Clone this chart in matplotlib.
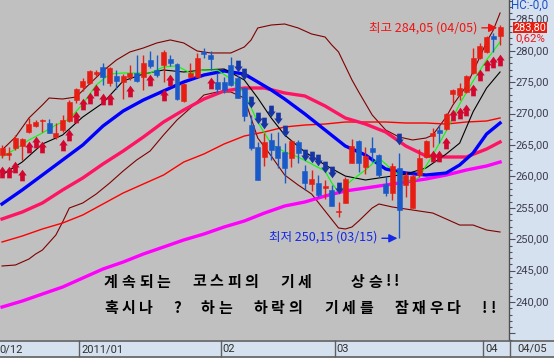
import numpy as np
import matplotlib.pyplot as plt
from matplotlib.path import Path
from matplotlib.lines import Line2D

plt.rcParams['font.family'] = ['Noto Sans CJK KR', 'DejaVu Sans']

# daily candles, index 0 .. 74 (last = 2011/04/05)
opens = [263.41, 263.41, 264.52, 264.84, 267.07, 268.02, 268.82, 268.50, 266.27, 267.39,
         268.82, 272.16, 274.23, 274.87, 276.30, 277.42, 274.87, 275.98, 275.03, 275.83,
         276.46, 275.83, 278.53, 276.94, 277.74, 278.69, 277.90, 272.00, 275.83, 275.83,
         279.81, 279.33, 275.03, 275.03, 277.74, 275.67, 274.07, 268.18, 264.68, 263.09,
         265.80, 264.84, 263.89, 262.93, 265.48, 260.86, 258.79, 258.95, 258.15, 257.84,
         254.33, 255.77, 262.13, 265.64, 261.50, 264.52, 263.41, 258.79, 257.36, 261.34,
         258.63, 254.97, 260.22, 263.09, 266.43, 267.39, 267.55, 273.12, 272.96, 273.44,
         276.46, 278.85, 279.81, 282.35, 282.35]
highs = [265.00, 264.68, 266.59, 266.11, 269.30, 268.98, 269.14, 269.14, 268.50, 269.78,
         272.16, 274.07, 275.67, 276.94, 276.94, 278.05, 277.42, 276.94, 276.30, 277.74,
         279.33, 279.33, 279.96, 279.33, 280.12, 279.33, 278.05, 274.87, 278.05, 279.65,
         280.44, 279.96, 276.46, 275.83, 279.01, 276.14, 274.23, 269.78, 265.48, 266.91,
         266.91, 267.07, 265.32, 265.80, 265.80, 261.82, 261.02, 260.22, 259.43, 258.63,
         255.93, 259.91, 265.96, 265.80, 264.68, 266.27, 263.57, 260.06, 262.13, 263.73,
         260.70, 260.38, 264.36, 265.80, 267.71, 268.18, 270.09, 273.92, 274.87, 276.14,
         280.44, 281.24, 282.35, 282.83, 284.05]
lows = [262.93, 262.61, 264.20, 262.61, 266.91, 267.87, 267.07, 266.91, 265.96, 267.07,
        268.66, 271.69, 273.60, 274.71, 275.98, 274.55, 274.39, 273.92, 272.32, 275.35,
        275.03, 273.76, 277.26, 275.83, 275.03, 277.58, 272.16, 271.85, 275.67, 275.83,
        278.85, 276.94, 273.28, 273.28, 274.39, 272.48, 268.82, 264.20, 259.43, 261.66,
        262.61, 261.34, 258.95, 261.50, 262.13, 257.84, 257.68, 256.72, 256.40, 255.29,
        253.54, 255.77, 262.13, 260.70, 260.38, 262.29, 259.91, 256.88, 256.24, 250.15,
        256.72, 254.97, 259.91, 262.93, 264.68, 265.32, 267.39, 271.69, 272.16, 273.28,
        276.30, 278.69, 279.65, 279.81, 280.92]
closes = [264.52, 263.73, 266.11, 265.96, 268.34, 268.66, 268.98, 266.91, 266.91, 268.98,
          271.85, 273.92, 275.19, 276.78, 276.62, 275.83, 277.26, 275.19, 275.98, 276.46,
          275.19, 278.05, 277.58, 276.14, 279.81, 278.05, 272.32, 274.71, 276.46, 278.85,
          279.49, 278.69, 273.92, 273.76, 274.55, 272.48, 269.62, 264.52, 259.43, 265.48,
          264.20, 262.93, 261.34, 265.64, 263.73, 258.95, 259.59, 257.04, 258.47, 255.29,
          254.49, 259.59, 264.84, 262.13, 263.25, 263.89, 260.22, 257.36, 261.66, 254.65,
          260.22, 260.06, 262.93, 265.64, 266.91, 266.91, 269.94, 273.76, 274.07, 275.98,
          278.85, 280.76, 282.19, 281.88, 283.80]

# moving averages / bands
ma5_idx = [0, 2, 4, 6, 8, 10, 12, 14, 16, 18, 20, 22, 24, 26, 28, 30, 32, 34, 36, 38,
           40, 42, 44, 46, 48, 49, 50, 51, 52, 54, 56, 58, 60, 61, 62, 64, 66, 68, 70, 72, 74]
ma5 = [263.09, 264.36, 265.80, 266.91, 268.18, 269.14, 271.53, 274.55, 276.30, 276.46,
       276.46, 276.46, 277.42, 277.58, 276.46, 276.94, 276.94, 275.51, 273.28, 268.66,
       265.16, 263.89, 263.09, 261.98, 260.86, 258.95, 257.52, 258.47, 259.43, 261.02,
       262.93, 261.02, 259.43, 259.11, 259.91, 263.41, 267.23, 271.53, 275.19, 278.53, 281.40]

ma_idx = [0, 3, 6, 9, 12, 15, 18, 21, 24, 27, 30, 33, 36, 38, 40, 42, 45, 48, 51, 54,
          57, 60, 63, 66, 68, 70, 72, 74]
ma10 = [260.22, 262.29, 265.16, 266.59, 269.46, 271.69, 275.19, 276.30, 276.94, 276.62,
        276.94, 277.10, 275.35, 272.48, 269.30, 266.59, 263.89, 261.82, 260.06, 259.43,
        259.91, 260.38, 261.34, 263.57, 265.30, 270.30, 274.07, 276.62]
ma20 = [255.61, 257.84, 260.22, 262.61, 265.00, 268.02, 270.41, 272.16, 273.60, 275.03,
        276.14, 276.78, 276.30, 275.03, 273.76, 272.32, 269.94, 267.39, 264.84, 263.41,
        261.18, 260.54, 260.22, 260.54, 261.82, 263.73, 266.75, 268.50]

long_idx = [0, 3, 6, 9, 12, 15, 18, 21, 24, 27, 30, 33, 36, 39, 42, 45, 48, 51, 54, 57,
            60, 63, 66, 69, 72, 74]
ma60 = [253.22, 254.33, 255.77, 257.84, 259.75, 261.98, 264.04, 266.27, 268.66, 270.57,
        272.32, 273.60, 274.07, 274.07, 273.28, 272.80, 271.21, 269.30, 268.34, 267.07,
        264.84, 263.25, 263.09, 263.09, 264.36, 265.48]
ma120 = [249.56, 250.51, 251.63, 252.58, 253.86, 255.61, 257.36, 258.79, 260.22, 262.29,
         263.57, 265.16, 266.43, 267.07, 267.87, 268.18, 268.34, 268.66, 268.66, 268.66,
         268.50, 268.50, 268.34, 268.66, 268.82, 269.30]
ma200 = [239.21, 240.16, 241.28, 242.39, 243.83, 245.26, 246.37, 247.65, 248.76, 249.88,
         250.83, 251.95, 252.90, 254.17, 255.29, 255.93, 256.88, 257.68, 258.15, 258.63,
         259.11, 259.59, 260.22, 261.02, 261.66, 262.29]

bb_up_idx = [0, 2, 4, 6, 7, 9, 11, 13, 15, 17, 19, 21, 23, 25, 27, 29, 31, 34, 36, 37,
             38, 40, 42, 44, 46, 48, 49, 50, 51, 52, 53, 55, 57, 59, 61, 63, 64, 66, 67, 69,
             71, 72, 73, 74]
bb_up = [264.20, 266.27, 269.30, 271.37, 272.48, 272.32, 272.64, 274.71, 276.78, 278.53,
         279.81, 280.44, 281.24, 281.72, 281.24, 279.96, 279.65, 279.65, 280.60, 281.70,
         283.63, 284.10, 284.26, 283.63, 282.67, 282.19, 280.92, 279.81, 277.58, 275.35,
         273.44, 269.78, 267.39, 266.27, 265.80, 266.11, 266.59, 269.46, 271.37, 274.39,
         279.01, 281.40, 283.31, 286.01]
bb_lo_idx = [0, 2, 4, 5, 6, 8, 9, 10, 12, 14, 16, 18, 20, 22, 24, 26, 28, 30, 32, 34,
             36, 37, 38, 40, 42, 44, 46, 48, 50, 51, 52, 53, 55, 56, 58, 61, 64, 66, 68, 70,
             72, 74]
bb_lo = [245.74, 245.90, 246.85, 247.65, 248.28, 250.67, 252.74, 254.97, 255.77, 257.20,
         258.95, 260.86, 262.61, 264.04, 266.59, 268.98, 270.89, 272.96, 273.44, 273.44,
         272.48, 269.30, 266.11, 263.25, 260.22, 258.63, 257.20, 254.49, 251.79, 251.63,
         251.95, 252.90, 254.97, 255.61, 255.13, 254.65, 254.17, 253.22, 252.26, 252.26,
         251.47, 251.15]

# signal arrows
buy_idx = [0, 1, 2, 3, 4, 5, 6, 9, 10, 11, 12, 13, 14, 15, 16, 19, 22, 24, 25, 31,
           64, 65, 66, 67, 68, 69, 70, 71, 72, 73, 74]
buy_val = [260.70, 260.70, 261.50, 260.22, 264.68, 265.48, 264.68, 265.00, 266.59, 269.46,
           271.53, 272.48, 273.76, 272.32, 272.32, 273.60, 275.35, 272.96, 275.35, 274.87,
           263.25, 263.25, 265.32, 269.78, 270.09, 270.57, 273.76, 276.14, 277.74, 278.21, 278.53]
sell_idx = [35, 36, 37, 38, 39, 40, 41, 42, 45, 46, 47, 48, 49, 50, 59]
sell_val = [277.58, 276.30, 271.85, 269.30, 268.50, 270.41, 269.30, 267.23, 263.41, 263.09,
            262.61, 261.50, 260.70, 258.15, 266.03]

month_pos = [11.5, 32.5, 49.5, 71.5]
month_labels = ['2011/01', '02', '03', '04']
y_ticks = [240, 245, 250, 255, 260, 265, 270, 275, 280, 285]

hi_i, hi_val = 74, 284.05
lo_i, lo_val = 59, 250.15

caption = ['계속되는  코스피의  기세    상승!!',
           '혹시나  ?  하는  하락의  기세를  잠재우다  !!']

BG = '#C0C0C0'
PANEL = '#D5E1EF'
UP = '#E61E14'
DOWN = '#1A5AC8'
NUMFONT = ['Roboto', 'DejaVu Sans']

W, H = 554, 358
fig = plt.figure(figsize=(W / 100, H / 100), dpi=100, facecolor=PANEL)
ax = fig.add_axes([0, 18 / H, 509 / W, 340 / H])
ax.set_facecolor(BG)
ax.set_xlim(-0.3, 75.33)
ax.set_ylim(233.96, 288.08)
for s in ax.spines.values():
    s.set_visible(False)
ax.set_xticks([])
ax.set_yticks([])

# lines
ax.plot(bb_up_idx, bb_up, color='#800000', lw=0.8, zorder=2)
ax.plot(bb_lo_idx, bb_lo, color='#800000', lw=0.8, zorder=2)
ax.plot(long_idx, ma200, color='#FF00FF', lw=2.4, zorder=2)
ax.plot(long_idx, ma120, color='#FF0000', lw=1.0, zorder=2)
ax.plot(long_idx, ma60, color='#FF1464', lw=2.4, zorder=2)
ax.plot(ma_idx, ma20, color='#0000FF', lw=2.4, zorder=3)
ax.plot(ma_idx, ma10, color='#000000', lw=0.8, zorder=3)
ax.plot(ma5_idx, ma5, color='#00FF00', lw=0.8, zorder=3)

# candles
x = np.arange(len(opens))
o = np.array(opens)
c = np.array(closes)
cols = [UP if cc >= oo else DOWN for oo, cc in zip(o, c)]
ax.vlines(x, lows, highs, colors=cols, lw=1.0, zorder=4)
ax.bar(x, np.maximum(np.abs(c - o), 0.12), bottom=np.minimum(o, c), width=0.74,
       color=cols, edgecolor=cols, lw=0.4, zorder=5)

# block arrow markers
up_verts = [(0, 1), (0.72, 0.0), (0.4, 0.0), (0.4, -1), (-0.4, -1), (-0.4, 0.0),
            (-0.72, 0.0), (0, 1)]
up_arrow = Path(up_verts)
down_arrow = Path([(vx, -vy) for vx, vy in up_verts])
ax.plot(buy_idx, buy_val, ls='none', marker=up_arrow, ms=8.4, color='#D2062E',
        mew=0, zorder=6)
ax.plot(sell_idx, sell_val, ls='none', marker=down_arrow, ms=8.4, color='#1634A4',
        mew=0, zorder=6)

# high / low notes
red_txt = '#F01414'
blue_txt = '#1428E6'
ax.annotate('', xy=(hi_i - 0.42, hi_val - 0.4), xytext=(hi_i - 2.7, hi_val - 0.4),
            arrowprops=dict(arrowstyle='-|>,head_length=0.5,head_width=0.25',
                            color=red_txt, lw=1.0, shrinkA=0, shrinkB=0), zorder=7)
ax.text(hi_i - 3.3, hi_val - 0.4, f'최고 {hi_val:.2f} (04/05)'.replace('.', ','),
        ha='right', va='center', color=red_txt, fontsize=9.0, zorder=7)
ax.annotate('', xy=(lo_i - 0.25, lo_val), xytext=(lo_i - 2.55, lo_val),
            arrowprops=dict(arrowstyle='-|>,head_length=0.5,head_width=0.25',
                            color=blue_txt, lw=1.0, shrinkA=0, shrinkB=0), zorder=7)
ax.text(lo_i - 3.3, lo_val + 0.15, f'최저 {lo_val:.2f} (03/15)'.replace('.', ','),
        ha='right', va='center', color=blue_txt, fontsize=9.0, zorder=7)

# big caption laid out on a fixed grid (full-width hangul, half-width ascii)
pitch = 17.6
for row, line in enumerate(caption):
    yy = 1 - (281.5 + row * 26.5) / H
    pos = 102.0
    for ch in line:
        wide = ord(ch) > 0x1000
        adv = pitch if wide else pitch / 2
        if ch != ' ':
            fig.text((pos + adv / 2) / W, yy, ch, ha='center', va='center',
                     fontsize=10.8, fontweight='bold', color='black')
        pos += adv

# right price panel
axr = fig.add_axes([509 / W, 18 / H, 45 / W, 340 / H])
axr.set_facecolor('none')
axr.set_ylim(ax.get_ylim())
axr.set_xlim(0, 45)
for k, s in axr.spines.items():
    s.set_visible(k == 'left')
axr.spines['left'].set_color('#505050')
axr.spines['left'].set_linewidth(1.0)
axr.set_xticks([])
axr.set_yticks(y_ticks + [235])
axr.set_yticks(np.arange(234, 289, 1), minor=True)
axr.tick_params(axis='y', which='major', direction='in', length=4.2, width=0.8,
                color='#505060', labelleft=False)
axr.tick_params(axis='y', which='minor', direction='in', length=1.8, width=0.8,
                color='#505060')
for v in y_ticks:
    axr.text(6.5, v, f'{v:.2f}'.replace('.', ','), ha='left', va='center',
             fontsize=8.0, color='#3C3C4C', family=NUMFONT)
axr.text(4.5, closes[-1] - 0.1, f'{closes[-1]:.2f}'.replace('.', ','), ha='left',
         va='center', fontsize=7.8, color='white', family=NUMFONT,
         bbox=dict(boxstyle='square,pad=0.05', fc='#E41E10', ec='none'))
fig.text(511 / W, 1 - 5.5 / H, 'HC:-0,0', ha='left', va='center', fontsize=8.4,
         color='#1E50C8', family=NUMFONT)
fig.text(515 / W, 1 - 37.8 / H, '0,62%', ha='left', va='center', fontsize=8.2,
         color='#F01414', family=NUMFONT)

# bottom date strip
axs = fig.add_axes([0, 0, 509 / W, 18 / H])
axs.set_xlim(ax.get_xlim())
axs.set_ylim(0, 18)
axs.axis('off')
axs.vlines(month_pos, 1, 18, color='#606060', lw=1.0)
for p, lab in zip(month_pos, month_labels):
    axs.text(p + 0.25, 8.5, lab, ha='left', va='center', fontsize=8, color='#303030',
             family=NUMFONT)
axs.text(-0.42, 8.5, '0/12', ha='left', va='center', fontsize=8, color='#303030',
         family=NUMFONT)
fig.add_artist(Line2D([0, 1], [1 - 340.5 / H, 1 - 340.5 / H], transform=fig.transFigure,
                      color='#606060', lw=1.2))
fig.add_artist(Line2D([0, 1], [1 - 356.8 / H, 1 - 356.8 / H], transform=fig.transFigure,
                      color='#606060', lw=1.2))
fig.add_artist(Line2D([509.5 / W, 509.5 / W], [0, 18 / H], transform=fig.transFigure,
                      color='#606060', lw=1.0))
fig.text(532 / W, 1 - 349 / H, '04/05', ha='center', va='center', fontsize=8,
         color='#303030', family=NUMFONT)

fig.savefig('out.png', dpi=100, facecolor=PANEL)
